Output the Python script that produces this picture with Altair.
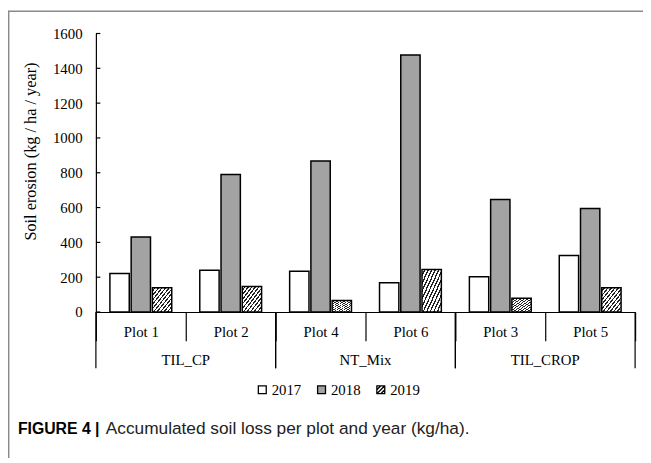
import altair as alt
import pandas as pd

# ---- data ----
plots = ["Plot 1", "Plot 2", "Plot 4", "Plot 6", "Plot 3", "Plot 5"]
plot_group = ["TIL_CP", "TIL_CP", "NT_Mix", "NT_Mix", "TIL_CROP", "TIL_CROP"]
years = ["2017", "2018", "2019"]
v2017 = [221, 240, 234, 168, 202, 325]
v2018 = [431, 790, 868, 1477, 647, 594]
v2019 = [140, 146, 66, 244, 79, 140]
y_ticks = [0, 200, 400, 600, 800, 1000, 1200, 1400, 1600]

groups = ["TIL_CP", "NT_Mix", "TIL_CROP"]
group_first = ["Plot 1", "Plot 4", "Plot 3"]
group_second = ["Plot 2", "Plot 6", "Plot 5"]
group_last = ["Plot 2", "Plot 6", "Plot 5"]

rows = []
for yr, vals in zip(years, [v2017, v2018, v2019]):
    for p, g, v in zip(plots, plot_group, vals):
        rows.append({"plot": p, "group": g, "year": yr, "value": v})
df = pd.DataFrame(rows)
gdf = pd.DataFrame({"group": groups, "first": group_first,
                    "second": group_second, "last": group_last})
ydf = pd.DataFrame({"year": years})
tdf = pd.DataFrame({"value": y_ticks})
one = pd.DataFrame({"a": [0]})

W, H = 546, 282
SERIF = "Liberation Serif"
SANS = "Liberation Sans"


def stripes(n, dark=0.4, col="#222222"):
    stops = []
    for i in range(n):
        s = i / n
        m = s + (1 - dark) / n
        e = (i + 1) / n
        stops += [{"offset": s, "color": "white"}, {"offset": m, "color": "white"},
                  {"offset": m, "color": col}, {"offset": e, "color": col}]
    return {"gradient": "linear", "x1": 0, "y1": 0, "x2": 1, "y2": 1, "stops": stops}


hatch_bar = stripes(11)
SQ = "M-1,-1L1,-1L1,1L-1,1Z"
SQ_HATCH = SQ + " M-1,0L0,-1 M-1,1L1,-1 M0,1L1,0"

fill_scale = alt.Scale(domain=years, range=["white", "#a3a3a3", "white"])
leg = alt.Legend(orient="none", legendX=161, legendY=353,
                 direction="horizontal", title=None,
                 symbolSize=64, symbolStrokeColor="black", symbolStrokeWidth=1.3,
                 labelFont=SERIF, labelFontSize=15, labelColor="black",
                 labelOffset=2, columnPadding=13)

xenc = alt.X("plot:N", sort=plots,
             scale=alt.Scale(domain=plots, paddingInner=0, paddingOuter=0),
             axis=alt.Axis(title=None, labelAngle=0, tickBand="extent",
                           tickSize=29, tickColor="black", tickWidth=1.2,
                           domainColor="black", domainWidth=1.2,
                           labelFont=SERIF, labelFontSize=15, labelColor="black",
                           labelBaseline="middle", labelPadding=-9))

yscale = alt.Scale(domain=[0, 1600])
yaxis = alt.Axis(title="Soil erosion (kg / ha / year)", values=y_ticks,
                 format="d", grid=False, domainColor="black", domainWidth=1.2,
                 ticks=False, labelOverlap=False, labelFont=SERIF,
                 labelFontSize=15, labelColor="black", labelPadding=14,
                 titleFont=SERIF, titleFontSize=16.5, titleFontWeight="normal",
                 titleColor="black", titleX=-66, titleY=119,
                 titleBaseline="middle", titleAlign="center")

bars = alt.Chart(df).mark_bar(stroke="black", strokeWidth=1.5).encode(
    x=xenc,
    xOffset=alt.XOffset("year:N", sort=years,
                        scale=alt.Scale(domain=years, paddingInner=0.09, paddingOuter=0.66)),
    y=alt.Y("value:Q", scale=yscale, axis=yaxis),
    fill=alt.condition(
        "datum.year === '2019'",
        alt.value(hatch_bar),
        alt.Fill("year:N", sort=years, scale=fill_scale, legend=None),
    ),
)

# inward y ticks
yticks = alt.Chart(tdf).mark_rule(color="black", strokeWidth=1.2).encode(
    y=alt.Y("value:Q", scale=yscale, axis=yaxis), x=alt.value(0), x2=alt.value(4.5))

# legend-only points (drawn off-canvas) to carry the legend symbols
legpts = alt.Chart(ydf).mark_point(filled=True, strokeWidth=1.3, opacity=1).encode(
    x=alt.value(0), y=alt.value(-3000),
    fill=alt.Fill("year:N", sort=years, scale=fill_scale, legend=leg, title=None),
    stroke=alt.Stroke("year:N", sort=years,
                      scale=alt.Scale(domain=years, range=["black", "black", "black"]),
                      legend=leg, title=None),
    shape=alt.Shape("year:N", sort=years,
                    scale=alt.Scale(domain=years, range=[SQ, SQ, SQ_HATCH]),
                    legend=leg, title=None),
)

seps_first = alt.Chart(gdf).mark_rule(color="black", strokeWidth=1.2).encode(
    x=alt.X("first:N", sort=plots, bandPosition=0),
    y=alt.value(H), y2=alt.value(H + 57))
seps_last = alt.Chart(gdf).mark_rule(color="black", strokeWidth=1.2).encode(
    x=alt.X("last:N", sort=plots, bandPosition=1),
    y=alt.value(H), y2=alt.value(H + 57))
glabels = alt.Chart(gdf).mark_text(font=SERIF, fontSize=15, color="black",
                                    baseline="middle").encode(
    x=alt.X("second:N", sort=plots, bandPosition=0),
    y=alt.value(H + 49), text="group:N")

# outer frame: top and left edges only (the rest runs off the picture)
frame_top = alt.Chart(one).mark_rule(color="#8a8a8a", strokeWidth=1.5).encode(
    x=alt.value(-89), x2=alt.value(W + 20), y=alt.value(-22.5))
frame_left = alt.Chart(one).mark_rule(color="#8a8a8a", strokeWidth=1.5).encode(
    x=alt.value(-88.3), y=alt.value(-23), y2=alt.value(H + 200))

cap1 = alt.Chart(one).mark_text(font=SANS, fontSize=16, fontWeight="bold", color="black",
                                 align="left", baseline="middle").encode(
    x=alt.value(-79), y=alt.value(H + 119), text=alt.value("FIGURE 4 |"))
cap2 = alt.Chart(one).mark_text(font=SANS, fontSize=17.5, color="#222222",
                                 align="left", baseline="middle").encode(
    x=alt.value(10), y=alt.value(H + 119),
    text=alt.value("Accumulated soil loss per plot and year (kg/ha)."))

chart = alt.layer(frame_top, frame_left, legpts, bars, yticks, seps_first, seps_last,
                  glabels, cap1, cap2).properties(
    width=W, height=H,
    autosize=alt.AutoSizeParams(type="none"),
    padding={"left": 89, "top": 23, "right": 8, "bottom": 145},
).configure_view(stroke=None)

chart.save("out.html", embed_options={"renderer": "svg", "actions": False})
